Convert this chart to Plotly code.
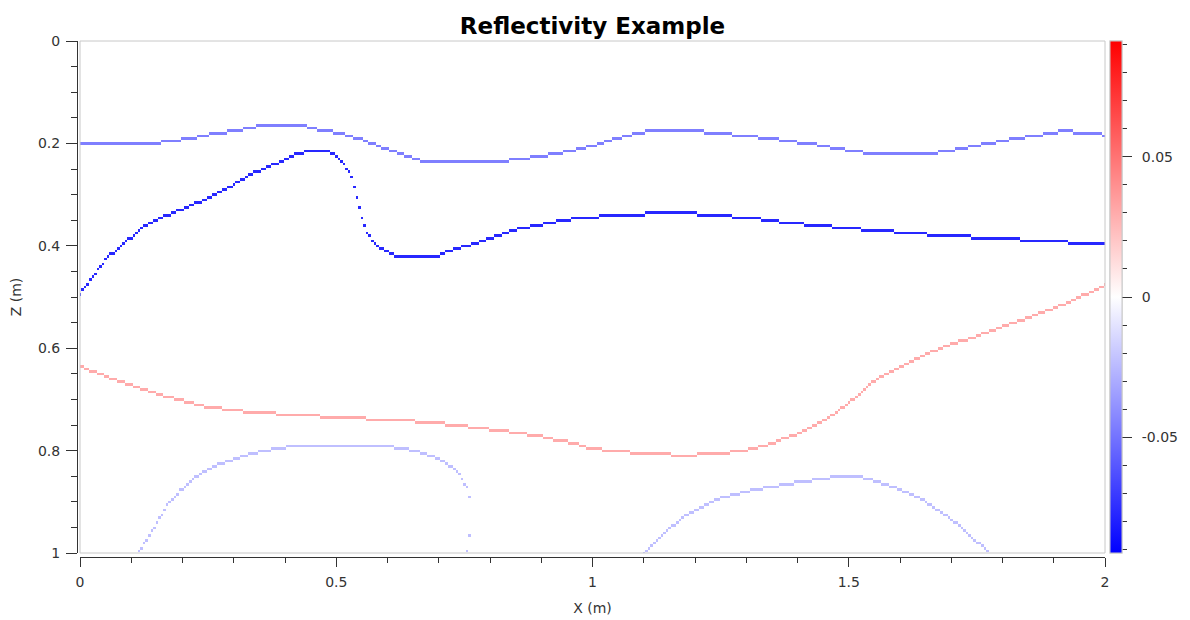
import numpy as np
import plotly.graph_objects as go

# ---------------- data ----------------
# grid of the reflectivity section
x_min, x_max, n_x = 0.0, 2.0, 401
z_min, z_max, n_z = 0.0, 1.0, 201

# reflector 1 (shallow, weak negative)
r1_x = [0.0, 0.137, 0.176, 0.215, 0.248, 0.293, 0.326, 0.351, 0.435, 0.455, 0.488, 0.521, 0.552,
        0.585, 0.624, 0.650, 0.677, 0.820, 0.845, 0.898, 0.950, 0.995, 1.034, 1.079, 1.112, 1.184,
        1.249, 1.307, 1.352, 1.391, 1.430, 1.457, 1.489, 1.522, 1.541, 1.653, 1.684, 1.717, 1.742,
        1.770, 1.801, 1.820, 1.860, 1.893, 1.926, 1.951, 1.984, 2.0]
r1_z = [0.200, 0.200, 0.195, 0.190, 0.183, 0.177, 0.171, 0.165, 0.165, 0.171, 0.177, 0.183, 0.193,
        0.206, 0.219, 0.229, 0.236, 0.236, 0.231, 0.225, 0.216, 0.206, 0.193, 0.182, 0.175, 0.175,
        0.180, 0.186, 0.191, 0.197, 0.201, 0.206, 0.212, 0.216, 0.221, 0.221, 0.216, 0.211, 0.205,
        0.200, 0.195, 0.190, 0.185, 0.180, 0.175, 0.180, 0.180, 0.186]
r1_val = -0.046

# reflector 2 (strong negative)
r2_x = [0.0, 0.025, 0.052, 0.078, 0.123, 0.156, 0.195, 0.248, 0.298, 0.337, 0.390, 0.423, 0.443,
        0.488, 0.501, 0.521, 0.531, 0.535, 0.540, 0.544, 0.550, 0.554, 0.560, 0.572, 0.591, 0.618,
        0.697, 0.716, 0.780, 0.845, 0.911, 0.976, 1.073, 1.150, 1.229, 1.300, 1.343, 1.385, 1.430,
        1.483, 1.541, 1.604, 1.675, 1.763, 1.860, 1.956, 2.0]
r2_z = [0.493, 0.460, 0.424, 0.402, 0.363, 0.346, 0.330, 0.307, 0.281, 0.258, 0.236, 0.221, 0.216,
        0.216, 0.226, 0.249, 0.268, 0.285, 0.304, 0.324, 0.344, 0.359, 0.375, 0.392, 0.408, 0.419,
        0.419, 0.411, 0.392, 0.369, 0.356, 0.344, 0.340, 0.333, 0.340, 0.344, 0.350, 0.355, 0.359,
        0.364, 0.369, 0.374, 0.379, 0.384, 0.389, 0.394, 0.395]
r2_val = -0.077

# reflector 3 (positive)
r3_x = [0.0, 0.039, 0.078, 0.117, 0.156, 0.195, 0.234, 0.273, 0.312, 0.357, 0.429, 0.523, 0.619,
        0.686, 0.735, 0.777, 0.816, 0.855, 0.894, 0.927, 0.958, 0.995, 1.028, 1.089, 1.177, 1.259,
        1.294, 1.327, 1.360, 1.399, 1.438, 1.463, 1.489, 1.516, 1.541, 1.567, 1.594, 1.620, 1.659,
        1.698, 1.737, 1.776, 1.815, 1.854, 1.893, 1.932, 1.971, 2.0]
r3_z = [0.635, 0.650, 0.665, 0.678, 0.690, 0.701, 0.711, 0.717, 0.722, 0.726, 0.730, 0.736, 0.740,
        0.745, 0.750, 0.755, 0.760, 0.765, 0.771, 0.778, 0.784, 0.794, 0.799, 0.804, 0.809, 0.804,
        0.799, 0.792, 0.781, 0.766, 0.748, 0.734, 0.714, 0.693, 0.669, 0.652, 0.639, 0.626, 0.607,
        0.592, 0.581, 0.566, 0.551, 0.538, 0.524, 0.508, 0.490, 0.477]
r3_val = 0.030

# reflector 4 (deep arc, left)
r4_x = [0.115, 0.130, 0.150, 0.172, 0.195, 0.218, 0.238, 0.273, 0.312, 0.351, 0.390, 0.429, 0.599,
        0.619, 0.650, 0.683, 0.716, 0.736, 0.747, 0.755, 0.760, 0.762, 0.760, 0.755, 0.754]
r4_z = [0.994, 0.975, 0.939, 0.903, 0.877, 0.857, 0.843, 0.825, 0.812, 0.802, 0.794, 0.789, 0.789,
        0.794, 0.799, 0.809, 0.825, 0.841, 0.857, 0.872, 0.889, 0.930, 0.965, 0.994, 1.000]
r4_val = -0.023

# reflector 5 (deep arc, right)
r5_x = [1.099, 1.126, 1.151, 1.177, 1.210, 1.255, 1.321, 1.385, 1.450, 1.477, 1.516, 1.548, 1.581,
        1.620, 1.645, 1.684, 1.711, 1.737, 1.770]
r5_z = [1.000, 0.975, 0.950, 0.929, 0.910, 0.890, 0.874, 0.864, 0.854, 0.850, 0.850, 0.857, 0.869,
        0.883, 0.896, 0.922, 0.942, 0.965, 0.997]
r5_val = -0.023

color_limit = 0.0914
x_tick_vals = [0, 0.5, 1, 1.5, 2]
x_tick_text = ["0", "0.5", "1", "1.5", "2"]
z_tick_vals = [0, 0.2, 0.4, 0.6, 0.8, 1]
z_tick_text = ["0", "0.2", "0.4", "0.6", "0.8", "1"]
cb_tick_vals = [-0.05, 0, 0.05]
cb_tick_text = ["-0.05", "0", "0.05"]
cb_minor_vals = [-0.09, -0.08, -0.07, -0.06, -0.05, -0.04, -0.03, -0.02, -0.01, 0,
                 0.01, 0.02, 0.03, 0.04, 0.05, 0.06, 0.07, 0.08, 0.09]

# ---------------- rasterise reflectors onto the grid ----------------
xs = np.linspace(x_min, x_max, n_x)
zs = np.linspace(z_min, z_max, n_z)
dx = (x_max - x_min) / (n_x - 1)
dz = (z_max - z_min) / (n_z - 1)
refl = np.zeros((n_z, n_x))


def paint(px, pz, val):
    for k in range(len(px) - 1):
        xa, xb, za, zb = px[k], px[k + 1], pz[k], pz[k + 1]
        lo, hi = min(xa, xb), max(xa, xb)
        i0 = int(np.ceil((lo - x_min) / dx - 1e-6))
        i1 = int(np.floor((hi - x_min) / dx + 1e-6))
        for i in range(i0, i1 + 1):
            xc = x_min + i * dx
            t = 0.0 if hi == lo else (xc - xa) / (xb - xa)
            zc = za + t * (zb - za)
            j = int(round((zc - z_min) / dz))
            if 0 <= i < n_x and 0 <= j < n_z:
                refl[j, i] = val


for px_, pz_, v_ in [(r1_x, r1_z, r1_val), (r2_x, r2_z, r2_val), (r3_x, r3_z, r3_val),
                     (r4_x, r4_z, r4_val), (r5_x, r5_z, r5_val)]:
    paint(px_, pz_, v_)

# ---------------- figure ----------------
# page has an 8px body margin, so the figure is drawn 8px right / down
W, H = 1182, 612
ML, MR, MT, MB = 69, 85, 33, 63
pw, ph = W - ML - MR, H - MT - MB
x_dom0 = 3 / pw
y_dom0 = 4 / ph

bwr = [[0, "rgb(0,0,255)"], [0.5, "rgb(255,255,255)"], [1, "rgb(255,0,0)"]]
FONT = "DejaVu Sans"
tick_font = dict(family=FONT, size=14, color="#333333")
cb_x = (1102 - ML) / pw
cb_len = (1 - y_dom0)
title_x = (ML + 3 + (W - MR)) / 2 / W

fig = go.Figure()
fig.add_trace(go.Heatmap(
    x=xs, y=zs, z=refl, colorscale=bwr, zmin=-color_limit, zmax=color_limit,
    zsmooth=False, hoverinfo="skip",
    colorbar=dict(x=cb_x, xanchor="left", y=1, yanchor="top", len=cb_len, lenmode="fraction",
                  thickness=12, xpad=0, ypad=0, outlinewidth=1, outlinecolor="#c8c8c8",
                  tickmode="array", tickvals=cb_minor_vals, ticks="outside", ticklen=5,
                  tickcolor="#333333", showticklabels=False),
))
fig.add_trace(go.Heatmap(
    x=[5.0], y=[5.0], z=[[0.0]], colorscale=bwr, zmin=-color_limit, zmax=color_limit,
    hoverinfo="skip",
    colorbar=dict(x=cb_x, xanchor="left", y=1, yanchor="top", len=cb_len, lenmode="fraction",
                  thickness=12, xpad=0, ypad=0, outlinewidth=1, outlinecolor="#c8c8c8",
                  tickmode="array", tickvals=cb_tick_vals,
                  ticktext=["\u2002" + t for t in cb_tick_text],
                  ticks="outside", ticklen=10, tickcolor="#333333", tickfont=tick_font),
))

fig.add_shape(type="rect", xref="x domain", yref="y domain", x0=0, x1=1, y0=0, y1=1,
              line=dict(color="#c8c8c8", width=1), fillcolor="rgba(0,0,0,0)", layer="above")

fig.update_layout(
    width=W, height=H, margin=dict(l=ML, r=MR, t=MT, b=MB, autoexpand=False),
    paper_bgcolor="white", plot_bgcolor="white",
    title=dict(text="<b>Reflectivity Example</b>", x=title_x, xref="container", xanchor="center",
               y=1 - 18 / H, yanchor="middle",
               font=dict(family=FONT, size=23, color="black")),
    xaxis=dict(domain=[x_dom0, 1], anchor="free", position=0, range=[x_min, x_max],
               tickmode="array", tickvals=x_tick_vals, ticktext=x_tick_text,
               ticks="outside", ticklen=9, tickcolor="#333333", tickfont=tick_font,
               ticklabelstandoff=3,
               showline=True, linecolor="#333333", linewidth=1, showgrid=False, zeroline=False,
               minor=dict(tickmode="linear", tick0=0, dtick=0.1, ticks="outside", ticklen=5,
                          tickcolor="#333333", showgrid=False),
               title=dict(text="X (m)", font=dict(family=FONT, size=14, color="#333333"),
                          standoff=14)),
    yaxis=dict(domain=[y_dom0, 1], anchor="free", position=0, range=[z_max, z_min],
               tickmode="array", tickvals=z_tick_vals, ticktext=z_tick_text,
               ticks="outside", ticklen=11, tickcolor="#333333", tickfont=tick_font,
               ticklabelstandoff=3,
               showline=True, linecolor="#333333", linewidth=1, showgrid=False, zeroline=False,
               minor=dict(tickmode="linear", tick0=0, dtick=0.05, ticks="outside", ticklen=6,
                          tickcolor="#333333", showgrid=False),
               title=dict(text="Z (m)", font=dict(family=FONT, size=14, color="#333333"),
                          standoff=12)),
)

fig.write_html("out.html")
